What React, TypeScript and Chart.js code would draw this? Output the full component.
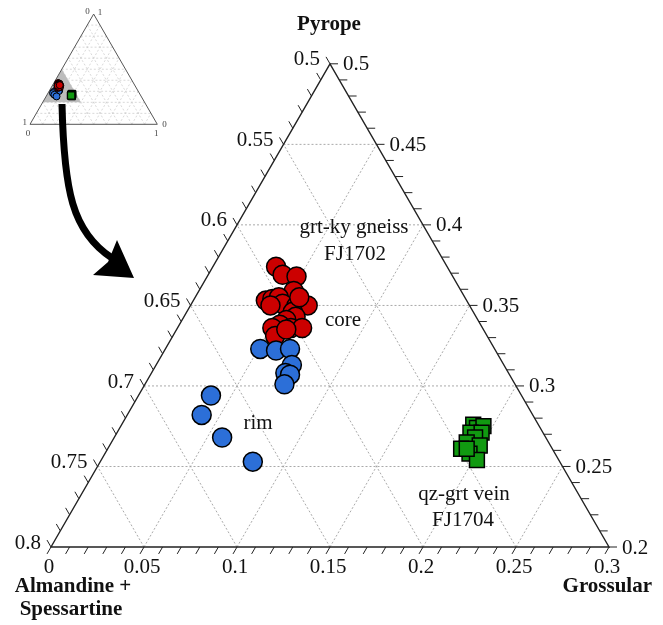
import React, { useEffect, useRef } from 'react';
import { Chart, registerables } from 'chart.js';

Chart.register(...registerables);

const SQ3 = Math.sqrt(3) / 2;

// Compositions (mole fractions). Alm+Sps = 1 - Grs - Prp.
const coreGrs = [0.034, 0.040, 0.048, 0.051, 0.039, 0.042, 0.045, 0.049, 0.057, 0.063, 0.057, 0.060, 0.056, 0.054, 0.051, 0.061, 0.067, 0.055, 0.059, 0.043, 0.056];
const corePrp = [0.374, 0.369, 0.368, 0.359, 0.353, 0.354, 0.355, 0.351, 0.350, 0.350, 0.346, 0.343, 0.341, 0.338, 0.336, 0.336, 0.336, 0.331, 0.335, 0.350, 0.355];

const rimGrs = [0.051, 0.060, 0.067, 0.073, 0.072, 0.075, 0.075, 0.039, 0.040, 0.058, 0.082];
const rimPrp = [0.323, 0.322, 0.323, 0.313, 0.308, 0.307, 0.301, 0.294, 0.282, 0.268, 0.253];

const veinGrs = [0.189, 0.192, 0.195, 0.190, 0.196, 0.194, 0.191, 0.190, 0.199, 0.196, 0.202, 0.193];
const veinPrp = [0.276, 0.274, 0.275, 0.271, 0.271, 0.268, 0.265, 0.261, 0.263, 0.258, 0.254, 0.261];

// Axis ticks of the zoomed ternary (Grossular on the base, Alm+Sps on the left, Pyrope on the right)
const grsTicks = [0, 0.05, 0.1, 0.15, 0.2, 0.25, 0.3];
const almTicks = [0.5, 0.55, 0.6, 0.65, 0.7, 0.75, 0.8];
const prpTicks = [0.5, 0.45, 0.4, 0.35, 0.3, 0.25, 0.2];
const insetGrid = [0.1, 0.2, 0.3, 0.4, 0.5, 0.6, 0.7, 0.8, 0.9];

// Window of the zoomed diagram
const PRP_MIN = 0.2;
const PRP_MAX = 0.5;
const GRS_MAX = 0.3;

// Layout (pixels)
const AREA = { left: 51, top: 63.8, right: 609, bottom: 547 };
const INSET = { x0: 30, y0: 124.3, side: 127.3 };
const W = 663;
const H = 625;

const SERIF = "'Liberation Serif', 'Times New Roman', serif";

const toXY = (g: number, p: number) => ({ x: g + p / 2, y: p * SQ3 });

const ternaryPlugin = {
  id: 'ternaryFrame',
  beforeDatasetsDraw(chart: any) {
    const ctx = chart.ctx as CanvasRenderingContext2D;
    const P = (g: number, p: number, sx = 'x', sy = 'y') => {
      const c = toXY(g, p);
      return [chart.scales[sx].getPixelForValue(c.x), chart.scales[sy].getPixelForValue(c.y)];
    };
    const line = (a: number[], b: number[]) => {
      ctx.beginPath();
      ctx.moveTo(a[0], a[1]);
      ctx.lineTo(b[0], b[1]);
      ctx.stroke();
    };
    ctx.save();

    // ---------- inset (full ternary) ----------
    const I = (g: number, p: number) => P(g, p, 'x2', 'y2');
    ctx.strokeStyle = '#cfcfcf';
    ctx.lineWidth = 0.8;
    ctx.setLineDash([2, 2]);
    for (const v of insetGrid) {
      line(I(0, v), I(1 - v, v)); // const Prp
      line(I(v, 0), I(v, 1 - v)); // const Grs
      line(I(1 - v, 0), I(0, 1 - v)); // const Alm
    }
    ctx.setLineDash([]);
    // zoom window
    ctx.fillStyle = '#bdbdbd';
    ctx.beginPath();
    let q = I(0, PRP_MAX); ctx.moveTo(q[0], q[1]);
    q = I(0, PRP_MIN); ctx.lineTo(q[0], q[1]);
    q = I(GRS_MAX, PRP_MIN); ctx.lineTo(q[0], q[1]);
    ctx.closePath();
    ctx.fill();
    ctx.strokeStyle = '#555';
    ctx.lineWidth = 1;
    ctx.beginPath();
    q = I(0, 1); ctx.moveTo(q[0], q[1]);
    q = I(0, 0); ctx.lineTo(q[0], q[1]);
    q = I(1, 0); ctx.lineTo(q[0], q[1]);
    ctx.closePath();
    ctx.stroke();
    ctx.fillStyle = '#444';
    ctx.font = `9px ${SERIF}`;
    ctx.textBaseline = 'middle';
    const apexI = I(0, 1), blI = I(0, 0), brI = I(1, 0);
    ctx.textAlign = 'right';
    ctx.fillText('0', apexI[0] - 4, apexI[1] - 2);
    ctx.fillText('1', blI[0] - 3, blI[1] - 2);
    ctx.textAlign = 'left';
    ctx.fillText('1', apexI[0] + 4, apexI[1] - 1);
    ctx.fillText('0', brI[0] + 5, brI[1]);
    ctx.textAlign = 'center';
    ctx.fillText('0', blI[0] - 2, blI[1] + 9);
    ctx.fillText('1', brI[0] - 1, brI[1] + 9);

    // ---------- curved arrow ----------
    ctx.strokeStyle = '#000';
    ctx.fillStyle = '#000';
    ctx.lineWidth = 7;
    ctx.lineCap = 'butt';
    ctx.beginPath();
    ctx.moveTo(62, 104);
    ctx.bezierCurveTo(64, 190, 72, 232, 112, 258);
    ctx.stroke();
    ctx.beginPath();
    ctx.moveTo(134, 278);
    ctx.lineTo(93, 275);
    ctx.lineTo(108, 262);
    ctx.lineTo(117, 240);
    ctx.closePath();
    ctx.fill();

    // ---------- main grid ----------
    ctx.strokeStyle = '#a0a0a0';
    ctx.lineWidth = 0.9;
    ctx.setLineDash([2, 2]);
    for (let i = 1; i < grsTicks.length - 1; i++) {
      const g = grsTicks[i];
      line(P(g, PRP_MIN), P(g, 1 - 0.5 - g)); // const Grs up to Alm = 0.5
      const p = prpTicks[i];
      line(P(0, p), P(0.5 - p, p)); // const Prp
      const a = almTicks[i];
      line(P(1 - a - PRP_MIN, PRP_MIN), P(0, 1 - a)); // const Alm
    }
    ctx.setLineDash([]);

    // ---------- outline ----------
    ctx.strokeStyle = '#222';
    ctx.lineWidth = 1.4;
    ctx.beginPath();
    q = P(0, PRP_MAX); ctx.moveTo(q[0], q[1]);
    q = P(0, PRP_MIN); ctx.lineTo(q[0], q[1]);
    q = P(GRS_MAX, PRP_MIN); ctx.lineTo(q[0], q[1]);
    ctx.closePath();
    ctx.stroke();

    // ---------- ticks ----------
    const L = 8;
    ctx.lineWidth = 1;
    ctx.font = `21px ${SERIF}`;
    ctx.fillStyle = '#111';
    for (let i = 0; i <= 30; i++) {
      const v = i / 100;
      // bottom: Grossular
      const b = P(v, PRP_MIN);
      line(b, [b[0] - 0.5 * L, b[1] + SQ3 * L]);
      // left: Alm+Sps = 0.5 + v
      const l = P(0, PRP_MAX - v);
      line(l, [l[0] - 0.5 * L, l[1] - SQ3 * L]);
      // right: Pyrope = 0.5 - v
      const r = P(v, PRP_MAX - v);
      line(r, [r[0] + L, r[1]]);
    }
    for (let i = 0; i < grsTicks.length; i++) {
      const b = P(grsTicks[i], PRP_MIN);
      ctx.textAlign = 'center';
      ctx.textBaseline = 'top';
      ctx.fillText(String(grsTicks[i]), b[0] - 2, b[1] + 10);
      const l = P(0, 1 - almTicks[i]);
      ctx.textAlign = 'right';
      ctx.textBaseline = 'middle';
      ctx.fillText(String(almTicks[i]), l[0] - 0.5 * L - 6, l[1] - SQ3 * L + 3);
      const r = P(0.5 - prpTicks[i], prpTicks[i]);
      ctx.textAlign = 'left';
      ctx.fillText(String(prpTicks[i]), r[0] + L + 5, r[1] + 1);
    }

    // ---------- axis titles ----------
    ctx.font = `bold 21px ${SERIF}`;
    ctx.textAlign = 'center';
    ctx.textBaseline = 'middle';
    ctx.fillText('Pyrope', 329, 25);
    ctx.fillText('Almandine +', 73, 587);
    ctx.fillText('Spessartine', 71, 610);
    ctx.textAlign = 'right';
    ctx.fillText('Grossular', 652, 587);

    // ---------- annotations ----------
    ctx.font = `21px ${SERIF}`;
    ctx.textAlign = 'center';
    ctx.fillText('grt-ky gneiss', 354, 227);
    ctx.fillText('FJ1702', 355, 254);
    ctx.fillText('core', 343, 320);
    ctx.fillText('rim', 258, 423);
    ctx.fillText('qz-grt vein', 464, 494);
    ctx.fillText('FJ1704', 463, 520);
    ctx.restore();
  },
};

export default function App() {
  const ref = useRef<HTMLCanvasElement | null>(null);
  useEffect(() => {
    if (!ref.current) return;
    const k = INSET.side;
    const aw = AREA.right - AREA.left;
    const mainXmin = toXY(0, PRP_MIN).x;
    const mainXmax = toXY(GRS_MAX, PRP_MIN).x;
    const mainYmin = toXY(0, PRP_MIN).y;
    const mainYmax = toXY(0, PRP_MAX).y;
    const red = '#cc0000';
    const blue = '#2c6fd8';
    const green = '#119a11';
    const mk = (gs: number[], ps: number[]) => gs.map((g, i) => toXY(g, ps[i]));
    const chart = new Chart(ref.current, {
      type: 'scatter',
      data: {
        datasets: [
          { label: 'rim', data: mk(rimGrs, rimPrp), backgroundColor: blue, borderColor: '#000', borderWidth: 1.5, pointRadius: 9.5, xAxisID: 'x', yAxisID: 'y', clip: false },
          { label: 'core', data: mk(coreGrs, corePrp), backgroundColor: red, borderColor: '#000', borderWidth: 1.5, pointRadius: 9.5, xAxisID: 'x', yAxisID: 'y', clip: false },
          { label: 'vein', data: mk(veinGrs, veinPrp), backgroundColor: green, borderColor: '#000', borderWidth: 1.5, pointRadius: 10.5, pointStyle: 'rect', xAxisID: 'x', yAxisID: 'y', clip: false },
          { label: 'core inset', data: mk(coreGrs, corePrp), backgroundColor: red, borderColor: '#000', borderWidth: 1, pointRadius: 3.5, xAxisID: 'x2', yAxisID: 'y2', clip: false },
          { label: 'rim inset', data: mk(rimGrs, rimPrp), backgroundColor: blue, borderColor: '#000', borderWidth: 1, pointRadius: 3.5, xAxisID: 'x2', yAxisID: 'y2', clip: false },
          { label: 'vein inset', data: mk(veinGrs, veinPrp), backgroundColor: green, borderColor: '#000', borderWidth: 1, pointRadius: 5, pointStyle: 'rect', xAxisID: 'x2', yAxisID: 'y2', clip: false },
        ],
      },
      options: {
        responsive: false,
        animation: false,
        events: [],
        layout: { padding: { left: AREA.left, right: W - AREA.right, top: AREA.top, bottom: H - AREA.bottom } },
        scales: {
          x: { type: 'linear', display: false, min: mainXmin, max: mainXmax },
          y: { type: 'linear', display: false, min: mainYmin, max: mainYmax },
          x2: { type: 'linear', axis: 'x', position: 'bottom', display: false, min: (AREA.left - INSET.x0) / k, max: (AREA.left - INSET.x0 + aw) / k },
          y2: { type: 'linear', axis: 'y', position: 'left', display: false, min: (INSET.y0 - AREA.bottom) / k, max: (INSET.y0 - AREA.top) / k },
        },
        plugins: { legend: { display: false }, tooltip: { enabled: false } },
      },
      plugins: [ternaryPlugin],
    } as any);
    return () => chart.destroy();
  }, []);
  return (
    <div style={{ position: 'absolute', left: 0, top: 0, width: W, height: H, background: '#fff' }}>
      <canvas ref={ref} width={W} height={H} style={{ width: W, height: H, display: 'block' }} />
    </div>
  );
}
